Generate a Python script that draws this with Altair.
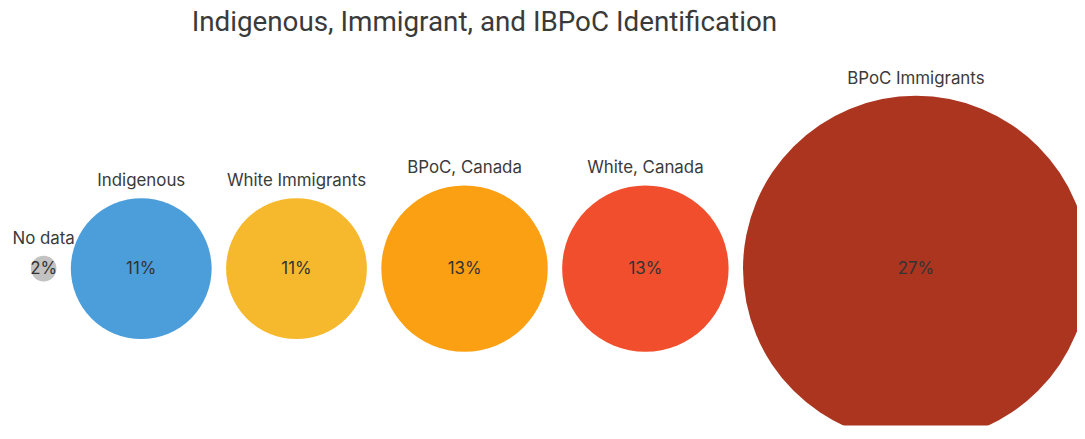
import altair as alt
import pandas as pd

categories = ["No data", "Indigenous", "White Immigrants", "BPoC, Canada", "White, Canada", "BPoC Immigrants"]
values = [2, 11, 11, 13, 13, 27]
pct_labels = ["2%", "11%", "11%", "13%", "13%", "27%"]
colors = ["#c2c2c2", "#4c9edb", "#f6b92d", "#fba013", "#f04e2d", "#ac3520"]

df = pd.DataFrame({
    "category": categories,
    "value": values,
    "label": pct_labels,
    "order": list(range(len(categories))),
})

PX = 6.45          # pixels per percentage point of radius
W = 1077
PLOT_H = 379
CY = 221
GAP_U = 14.5 / PX
START_U = 23 / PX

base = (
    alt.Chart(df)
    .transform_calculate(span=f"2*datum.value + {GAP_U}")
    .transform_window(cum="sum(span)", sort=[alt.SortField("order")], frame=[None, 0])
    .transform_calculate(cx=f"{START_U} + datum.cum - datum.value - {GAP_U}", cy="0")
)

xs = alt.Scale(domain=[0, W / PX], nice=False, zero=False)
ys = alt.Scale(domain=[-(PLOT_H - CY) / PX, CY / PX], nice=False, zero=False)

circles = base.mark_circle(opacity=1, clip=True, strokeWidth=0).encode(
    x=alt.X("cx:Q", scale=xs, axis=None),
    y=alt.Y("cy:Q", scale=ys, axis=None),
    size=alt.Size("value:Q", scale=alt.Scale(type="pow", exponent=2, domain=[0, 27],
                                              range=[0, (2 * PX * 27) ** 2]), legend=None),
    color=alt.Color("category:N", scale=alt.Scale(domain=categories, range=colors), legend=None),
)

names = base.mark_text(font="Inter", fontSize=17, color="#3a3a3a", baseline="alphabetic",
                       align="center", dy=-12).encode(
    x=alt.X("cx:Q", scale=xs, axis=None),
    y=alt.Y("value:Q", scale=ys, axis=None),
    text="category:N",
)

pcts = base.mark_text(font="Inter", fontSize=17, color="#333333", baseline="middle",
                      align="center").encode(
    x=alt.X("cx:Q", scale=xs, axis=None),
    y=alt.Y("cy:Q", scale=ys, axis=None),
    text="label:N",
)

chart = (
    alt.layer(circles, names, pcts)
    .properties(
        width=W,
        height=PLOT_H,
        padding={"top": 40, "left": 0, "right": 0, "bottom": 0},
        autosize=alt.AutoSizeParams(type="none"),
        title=alt.TitleParams(
            "Indigenous, Immigrant, and IBPoC Identification",
            font="Roboto", fontSize=28, fontWeight="normal", color="#3a3a3a",
            anchor="start", frame="group", dx=185, dy=26, offset=16, baseline="alphabetic",
        ),
    )
    .configure_view(strokeWidth=0)
)

chart.save("out.html", embed_options={"renderer": "svg", "actions": False})
